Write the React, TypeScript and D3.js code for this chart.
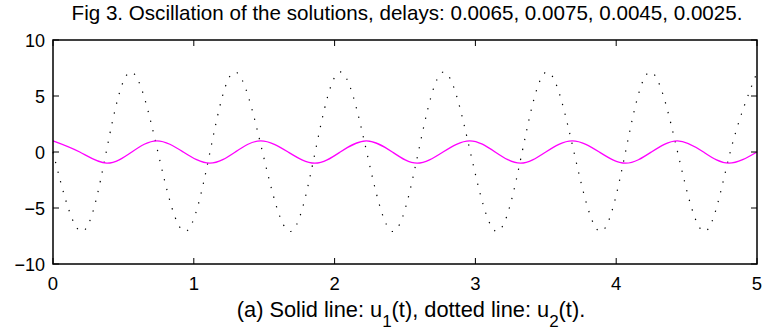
import { useEffect, useRef } from "react";
import * as d3 from "d3";

// Values (time, value): extrema and zero crossings
const u1Time = [0, 0.19, 0.381, 0.56, 0.738, 0.925, 1.114, 1.295, 1.476, 1.67, 1.86, 2.04, 2.226, 2.41, 2.586, 2.77, 2.96, 3.14, 3.32, 3.5, 3.688, 3.88, 4.067, 4.25, 4.435, 4.62, 4.8, 5];
const u1Value = [1, 0, -1, 0, 1, 0, -1, 0, 1, 0, -1, 0, 1, 0, -1, 0, 1, 0, -1, 0, 1, 0, -1, 0, 1, 0, -1, 0];

const u2Time = [0, 0.204, 0.378, 0.553, 0.745, 0.937, 1.115, 1.292, 1.488, 1.684, 1.862, 2.04, 2.228, 2.415, 2.595, 2.775, 2.964, 3.153, 3.332, 3.51, 3.7, 3.889, 4.066, 4.242, 4.436, 4.63, 4.81, 5];
const u2Value = [0, -7.1, 0, 7.15, 0, -7.1, 0, 7.15, 0, -7.1, 0, 7.15, 0, -7.1, 0, 7.15, 0, -7.1, 0, 7.15, 0, -7.1, 0, 7.15, 0, -7.1, 0, 7.1];

const xTicks = [0, 1, 2, 3, 4, 5];
const yTicks = [-10, -5, 0, 5, 10];

const title = "Fig 3. Oscillation of the solutions, delays: 0.0065, 0.0075, 0.0045, 0.0025.";

const width = 767;
const height = 332;
const margin = { top: 40, right: 10, bottom: 68, left: 53 };
const font = "'Liberation Sans', Arial, Helvetica, sans-serif";

const drawChart = (svgEl: SVGSVGElement) => {
    const svg = d3.select(svgEl);
    svg.selectAll("*").remove();

    const x = d3.scaleLinear().domain([0, 5]).range([margin.left, width - margin.right]);
    const y = d3.scaleLinear().domain([-10, 10]).range([height - margin.bottom, margin.top]);

    const [x0, x1] = x.range();
    const [y0, y1] = y.range();

    // title
    svg.append("text")
        .attr("x", 407)
        .attr("y", 20)
        .attr("text-anchor", "middle")
        .attr("font-family", font)
        .attr("font-size", 20.6)
        .text(title);

    // lines
    const line = d3.line<[number, number]>()
        .x(d => x(d[0]))
        .y(d => y(d[1]))
        .curve(d3.curveNatural);

    const u2 = u2Time.map((t, i) => [t, u2Value[i]] as [number, number]);
    const u1 = u1Time.map((t, i) => [t, u1Value[i]] as [number, number]);

    svg.append("path")
        .attr("d", line(u2))
        .attr("fill", "none")
        .attr("stroke", "#000")
        .attr("stroke-width", 1.2)
        .attr("stroke-dasharray", "1.3 8.7");

    svg.append("path")
        .attr("d", line(u1))
        .attr("fill", "none")
        .attr("stroke", "#ff00ff")
        .attr("stroke-width", 1.3);

    // frame
    svg.append("rect")
        .attr("x", x0)
        .attr("y", y1)
        .attr("width", x1 - x0)
        .attr("height", y0 - y1)
        .attr("fill", "none")
        .attr("stroke", "#000")
        .attr("stroke-width", 1.5);

    const tickLen = 6;

    // x ticks, inward at bottom and top
    const xt = svg.append("g").selectAll("g").data(xTicks).join("g");
    xt.append("line")
        .attr("x1", d => x(d)).attr("x2", d => x(d))
        .attr("y1", y0).attr("y2", y0 - tickLen)
        .attr("stroke", "#000");
    xt.append("line")
        .attr("x1", d => x(d)).attr("x2", d => x(d))
        .attr("y1", y1).attr("y2", y1 + tickLen)
        .attr("stroke", "#000");
    xt.append("text")
        .attr("x", d => x(d))
        .attr("y", y0 + 26)
        .attr("text-anchor", "middle")
        .attr("font-family", font)
        .attr("font-size", 18.5)
        .text(d => d);

    // y ticks, inward at left and right
    const yt = svg.append("g").selectAll("g").data(yTicks).join("g");
    yt.append("line")
        .attr("x1", x0).attr("x2", x0 + tickLen)
        .attr("y1", d => y(d)).attr("y2", d => y(d))
        .attr("stroke", "#000");
    yt.append("line")
        .attr("x1", x1).attr("x2", x1 - tickLen)
        .attr("y1", d => y(d)).attr("y2", d => y(d))
        .attr("stroke", "#000");
    yt.append("text")
        .attr("x", x0 - 8)
        .attr("y", d => y(d) + 6.5)
        .attr("text-anchor", "end")
        .attr("font-family", font)
        .attr("font-size", 18)
        .text(d => (d < 0 ? "\u2212" + Math.abs(d) : String(d)));

    // x label with subscripts
    const lab = svg.append("text")
        .attr("x", 411)
        .attr("y", y0 + 53)
        .attr("text-anchor", "middle")
        .attr("font-family", font)
        .attr("font-size", 21.8);
    lab.append("tspan").text("(a) Solid line: u");
    lab.append("tspan").attr("dy", 10).attr("font-size", 17).text("1");
    lab.append("tspan").attr("dy", -10).text("(t), dotted line: u");
    lab.append("tspan").attr("dy", 10).attr("font-size", 17).text("2");
    lab.append("tspan").attr("dy", -10).text("(t).");
};

export default function App() {
    const ref = useRef<SVGSVGElement>(null);

    useEffect(() => {
        if (ref.current) drawChart(ref.current);
    }, []);

    return (
        <svg
            ref={ref}
            width={width}
            height={height}
            style={{ position: "absolute", left: 0, top: 0, background: "#fff" }}
        />
    );
}
